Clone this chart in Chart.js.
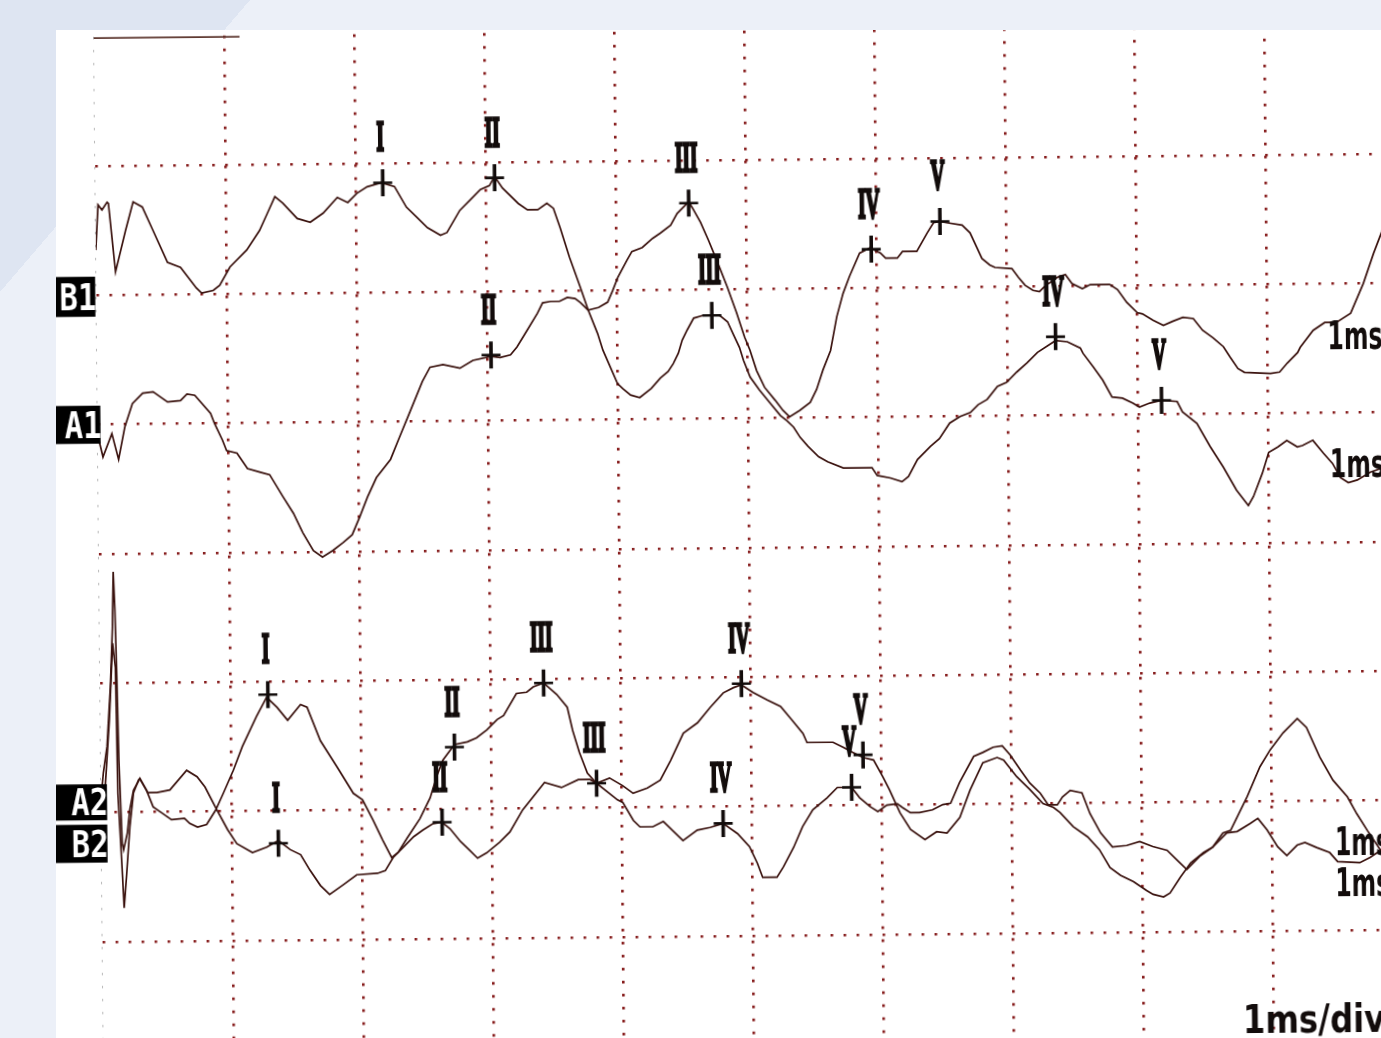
<!DOCTYPE html>
<html><head><meta charset="utf-8">
<script src="https://cdn.jsdelivr.net/npm/chart.js@4.4.1/dist/chart.umd.min.js"></script>
<style>
html,body{margin:0;padding:0;width:1381px;height:1038px;overflow:hidden;background:#ecf0f8;}
#tri{position:absolute;left:0;top:0;width:250px;height:292px;background:linear-gradient(to bottom right,#dee5f2 50%,rgba(222,229,242,0) 50%);}
#panel{position:absolute;left:56px;top:30px;width:1325px;height:1008px;background:#ffffff;overflow:hidden;}
#rot{position:absolute;left:-56px;top:-30px;width:1420px;height:1100px;transform:rotate(-0.544deg);transform-origin:93.8px 36.8px;}
canvas{display:block;}
</style></head>
<body>
<div id="tri"></div>
<div id="panel"><div id="rot"><canvas id="c" width="1420" height="1100"></canvas></div></div>
<script>
// x: time in ms (1 ms / div); y: vertical position in divisions from the top of the screen
const b1Time=[0.00,0.02,0.05,0.09,0.10,0.15,0.23,0.29,0.36,0.44,0.55,0.65,0.77,0.81,0.90,0.95,1.03,1.16,1.26,1.32,1.38,1.44,1.55,1.65,1.75,1.86,1.94,2.01,2.09,2.20,2.30,2.39,2.47,2.55,2.65,2.70,2.80,2.88,2.96,3.03,3.07,3.13,3.25,3.32,3.40,3.47,3.52,3.57,3.64,3.72,3.78,3.86,3.93,3.97,4.01,4.08,4.12,4.20,4.28,4.34,4.42,4.47,4.52,4.56,4.59,4.65,4.71,4.77,4.85,4.92,4.98,5.02,5.07,5.13,5.21,5.27,5.32,5.40,5.48,5.53,5.58,5.64,5.69,5.74,5.79,5.87,5.95,6.03,6.07,6.16,6.20,6.31,6.39,6.44,6.49,6.54,6.66,6.72,6.77,6.81,6.87,6.91,7.04,7.09,7.14,7.20,7.25,7.29,7.39,7.45,7.50,7.58,7.64,7.79,7.85,7.92,8.00,8.04,8.12,8.20,8.27,8.35,8.43,8.50,8.58,8.66,8.71,8.77,8.82,9.02,9.09,9.15,9.23,9.25,9.35,9.44,9.53,9.64,9.74,9.82,9.89];
const b1Level=[1.65,1.30,1.34,1.28,1.29,1.82,1.50,1.28,1.32,1.50,1.75,1.79,1.95,1.99,1.97,1.93,1.79,1.66,1.51,1.38,1.25,1.30,1.42,1.45,1.38,1.26,1.30,1.23,1.18,1.15,1.18,1.34,1.42,1.50,1.56,1.54,1.37,1.29,1.21,1.18,1.11,1.20,1.32,1.37,1.37,1.32,1.36,1.51,1.74,1.97,2.15,2.13,2.09,2.00,1.90,1.77,1.70,1.67,1.60,1.56,1.50,1.41,1.36,1.32,1.37,1.48,1.62,1.77,1.98,2.18,2.37,2.47,2.63,2.76,2.86,2.94,2.99,2.94,2.88,2.78,2.63,2.48,2.22,2.04,1.91,1.73,1.69,1.73,1.77,1.77,1.72,1.72,1.58,1.50,1.49,1.50,1.52,1.58,1.69,1.78,1.83,1.85,1.86,1.93,1.99,2.03,2.04,2.00,1.93,1.91,1.98,2.02,1.99,1.99,2.03,2.13,2.21,2.22,2.27,2.31,2.28,2.25,2.26,2.35,2.41,2.48,2.56,2.65,2.68,2.69,2.68,2.61,2.53,2.49,2.36,2.30,2.30,2.23,2.00,1.77,1.59];

const a1Time=[0.00,0.01,0.04,0.11,0.16,0.21,0.27,0.35,0.43,0.54,0.64,0.69,0.75,0.87,0.90,0.96,0.99,1.07,1.15,1.25,1.32,1.42,1.50,1.57,1.65,1.72,1.80,1.88,1.95,2.01,2.07,2.14,2.25,2.32,2.40,2.50,2.56,2.66,2.79,2.89,3.03,3.10,3.18,3.23,3.31,3.39,3.43,3.49,3.56,3.62,3.68,3.72,3.78,3.85,3.89,4.00,4.04,4.10,4.17,4.26,4.33,4.39,4.43,4.47,4.50,4.54,4.59,4.66,4.73,4.79,4.85,4.89,4.94,4.97,5.02,5.09,5.17,5.25,5.30,5.35,5.40,5.46,5.54,5.61,5.73,5.95,5.99,6.09,6.18,6.23,6.30,6.40,6.47,6.55,6.63,6.71,6.77,6.84,6.92,6.99,7.07,7.15,7.23,7.37,7.46,7.56,7.58,7.66,7.73,7.80,7.88,7.96,8.01,8.09,8.18,8.30,8.34,8.45,8.55,8.65,8.75,8.84,8.88,8.95,9.00,9.07,9.14,9.22,9.26,9.34,9.42,9.49,9.55,9.61,9.68,9.78,9.87];
const a1Level=[3.06,3.12,3.25,3.07,3.27,3.02,2.84,2.76,2.75,2.83,2.82,2.77,2.78,2.92,3.00,3.13,3.21,3.23,3.35,3.38,3.40,3.57,3.70,3.85,3.99,4.04,3.99,3.93,3.87,3.73,3.58,3.43,3.29,3.12,2.93,2.69,2.58,2.56,2.59,2.53,2.50,2.51,2.49,2.43,2.30,2.17,2.09,2.08,2.08,2.05,2.06,2.09,2.15,2.33,2.46,2.72,2.76,2.81,2.83,2.76,2.68,2.63,2.57,2.49,2.39,2.31,2.22,2.20,2.20,2.20,2.25,2.34,2.45,2.55,2.68,2.78,2.88,2.98,3.02,3.07,3.15,3.22,3.30,3.34,3.39,3.39,3.45,3.47,3.50,3.46,3.33,3.23,3.17,3.05,3.00,2.97,2.91,2.87,2.77,2.74,2.66,2.59,2.51,2.42,2.43,2.48,2.52,2.63,2.73,2.86,2.87,2.91,2.94,2.91,2.89,2.90,2.98,3.07,3.25,3.41,3.59,3.71,3.64,3.46,3.30,3.26,3.21,3.26,3.25,3.21,3.31,3.39,3.50,3.54,3.52,3.46,3.43];

const a2Time=[0.00,0.02,0.05,0.08,0.10,0.11,0.12,0.13,0.14,0.16,0.17,0.20,0.22,0.25,0.30,0.35,0.40,0.47,0.54,0.64,0.68,0.74,0.81,0.88,0.94,1.02,1.09,1.20,1.28,1.36,1.44,1.54,1.59,1.69,1.82,1.94,2.01,2.09,2.16,2.23,2.28,2.35,2.45,2.53,2.58,2.63,2.72,2.82,2.89,2.97,3.05,3.10,3.20,3.28,3.33,3.41,3.51,3.59,3.63,3.68,3.74,3.81,3.91,4.01,4.09,4.20,4.30,4.38,4.48,4.59,4.69,4.79,4.87,4.93,5.02,5.13,5.23,5.32,5.40,5.43,5.63,5.71,5.78,5.86,5.94,6.01,6.06,6.14,6.22,6.33,6.42,6.50,6.60,6.68,6.78,6.89,6.94,7.04,7.14,7.24,7.32,7.37,7.47,7.58,7.67,7.75,7.83,7.93,8.03,8.08,8.16,8.21,8.29,8.37,8.47,8.54,8.62,8.68,8.73,8.81,8.91,8.99,9.09,9.20,9.27,9.37,9.47,9.58,9.65,9.73,9.84];
const a2Level=[5.90,5.69,5.49,5.03,4.57,4.14,4.43,4.95,5.60,6.24,6.29,6.16,5.98,5.83,5.74,5.83,5.96,6.01,6.06,6.05,6.09,6.12,6.10,5.99,5.86,5.68,5.50,5.27,5.12,5.20,5.30,5.18,5.20,5.46,5.67,5.87,5.92,6.08,6.23,6.37,6.33,6.22,6.07,5.91,5.75,5.62,5.50,5.48,5.45,5.39,5.31,5.28,5.11,5.10,5.06,5.03,5.12,5.22,5.40,5.57,5.73,5.81,5.77,5.83,5.89,5.85,5.79,5.64,5.43,5.35,5.23,5.12,5.08,5.06,5.12,5.18,5.23,5.34,5.44,5.51,5.51,5.55,5.59,5.63,5.65,5.78,5.88,6.06,6.19,6.27,6.21,6.22,6.10,5.89,5.68,5.64,5.66,5.79,5.89,6.00,6.03,6.07,6.18,6.26,6.36,6.50,6.56,6.61,6.68,6.71,6.73,6.70,6.58,6.47,6.39,6.35,6.24,6.22,6.12,5.96,5.73,5.60,5.47,5.36,5.43,5.66,5.84,5.97,6.10,6.23,6.40];

const b2Time=[0.00,0.03,0.07,0.10,0.12,0.13,0.16,0.17,0.19,0.22,0.25,0.29,0.30,0.36,0.43,0.53,0.66,0.74,0.80,0.88,0.97,1.04,1.16,1.27,1.36,1.45,1.53,1.60,1.68,1.75,1.85,1.96,2.12,2.18,2.24,2.32,2.40,2.47,2.55,2.62,2.68,2.76,2.83,2.89,2.96,3.06,3.14,3.24,3.41,3.54,3.67,3.76,3.81,3.97,4.01,4.09,4.14,4.24,4.32,4.39,4.47,4.58,4.68,4.78,4.89,4.98,5.04,5.08,5.19,5.24,5.32,5.39,5.47,5.58,5.66,5.70,5.77,5.83,5.91,5.97,6.04,6.12,6.16,6.22,6.29,6.39,6.47,6.53,6.60,6.71,6.78,6.86,6.93,6.99,7.07,7.14,7.22,7.28,7.35,7.39,7.45,7.54,7.60,7.68,7.77,7.88,7.98,8.08,8.19,8.27,8.34,8.44,8.54,8.65,8.73,8.83,8.89,8.96,9.04,9.11,9.19,9.25,9.34,9.44,9.50,9.67,9.75,9.84];
const b2Level=[5.90,5.85,5.28,4.69,4.88,5.85,6.50,6.74,6.50,6.11,5.85,5.75,5.74,5.85,5.85,5.83,5.68,5.73,5.81,5.97,6.14,6.25,6.32,6.28,6.23,6.30,6.34,6.46,6.58,6.65,6.58,6.50,6.49,6.47,6.37,6.29,6.21,6.16,6.11,6.10,6.15,6.25,6.32,6.38,6.34,6.26,6.18,6.01,5.80,5.84,5.78,5.78,5.81,5.94,5.96,6.10,6.15,6.15,6.11,6.18,6.26,6.18,6.16,6.13,6.21,6.31,6.44,6.55,6.55,6.47,6.32,6.16,6.03,5.94,5.86,5.86,5.86,5.94,6.01,6.05,6.00,5.99,6.02,6.06,6.06,6.04,6.00,5.99,5.83,5.63,5.60,5.56,5.55,5.62,5.74,5.84,5.92,6.01,6.01,5.95,5.90,5.92,6.08,6.23,6.34,6.33,6.30,6.34,6.37,6.45,6.52,6.42,6.35,6.24,6.23,6.17,6.13,6.22,6.35,6.42,6.34,6.32,6.36,6.40,6.47,6.48,6.44,6.38];

// wave peaks (latency in ms, level) and their roman-numeral names
const b1PeakTime=[2.21,3.07,4.56,5.96,6.49], b1PeakLevel=[1.15,1.12,1.33,1.70,1.49], b1PeakNames=['I','II','III','IV','V'];
const a1PeakTime=[3.03,4.73,7.37,8.18],      a1PeakLevel=[2.49,2.20,2.39,2.89],      a1PeakNames=['II','III','IV','V'];
const a2PeakTime=[1.29,2.72,3.41,4.93,5.86], a2PeakLevel=[5.10,5.52,5.03,5.05,5.61], a2PeakNames=['I','II','III','IV','V'];
const b2PeakTime=[1.36,2.62,3.81,4.78,5.77], b2PeakLevel=[6.25,6.10,5.81,6.13,5.86], b2PeakNames=['I','II','III','IV','V'];

// channel tags, scale texts
const channelNames=['B1','A1','A2','B2'];
const channelTagLevel=[2.01,3.00,5.92,6.24];
const scaleTexts=['1ms','1ms','1ms','1ms'];
const scaleTextTime=[9.46,9.47,9.48,9.48];
const scaleTextLevel=[2.51,3.50,6.42,6.74];
const sweepText='1ms/div', sweepTime=8.76, sweepLevel=7.79;
const frameTime=[0.00,1.12], frameLevel=[0.01,0.01];

// ---- styles ----
const TRACE='#3a120e', MARK='#120c0b', GRIDC='#861c1c';
const zip=(xs,ys)=>xs.map((x,i)=>({x:x,y:ys[i]}));
const peakGroups=[
  {t:b1PeakTime,v:b1PeakLevel,n:b1PeakNames},
  {t:a1PeakTime,v:a1PeakLevel,n:a1PeakNames},
  {t:a2PeakTime,v:a2PeakLevel,n:a2PeakNames},
  {t:b2PeakTime,v:b2PeakLevel,n:b2PeakNames}
];
const allPeaks=[];
peakGroups.forEach(g=>g.t.forEach((t,i)=>allPeaks.push({x:t,y:g.v[i]})));
const tagStyle=[{right:-1,h:40},{right:3,h:38},{right:6,h:36},{right:6,h:38}];

function traceDs(label,xs,ys){
  return {label:label,data:zip(xs,ys),borderColor:TRACE,borderWidth:1.7,pointRadius:0,tension:0,fill:false,order:2};
}

const annot={
  id:'annot',
  afterDatasetsDraw(chart){
    const ctx=chart.ctx, x=chart.scales.x, y=chart.scales.y, area=chart.chartArea;
    ctx.save();
    // roman numerals above peak markers
    ctx.fillStyle=MARK; ctx.strokeStyle=MARK; ctx.lineJoin='miter';
    ctx.textAlign='center'; ctx.textBaseline='alphabetic';
    ctx.font='bold 40px "Liberation Serif"';
    peakGroups.forEach(g=>{
      g.t.forEach((t,i)=>{
        const px=x.getPixelForValue(t)-2, py=y.getPixelForValue(g.v[i])-46+14;
        ctx.save(); ctx.translate(px,py); ctx.scale(0.48,1.04);
        ctx.lineWidth=3.2; ctx.strokeText(g.n[i],0,0); ctx.fillText(g.n[i],0,0); ctx.restore();
      });
    });
    // channel tags
    channelNames.forEach((name,i)=>{
      const cy=y.getPixelForValue(channelTagLevel[i]);
      const st=tagStyle[i];
      const r=area.left+st.right;
      ctx.fillStyle='#000';
      ctx.fillRect(r-52,cy-st.h/2,52,st.h);
      ctx.fillStyle='#fff'; ctx.textAlign='right';
      ctx.font='bold 36px "DejaVu Sans Mono"';
      ctx.save(); ctx.translate(r+1,cy+13); ctx.scale(0.85,1.05); ctx.fillText(name,0,0); ctx.restore();
    });
    // scale texts at right
    ctx.fillStyle=MARK; ctx.textAlign='left';
    ctx.font='bold 38px "DejaVu Sans"';
    scaleTexts.forEach((s,i)=>{
      ctx.save(); ctx.translate(x.getPixelForValue(scaleTextTime[i]),y.getPixelForValue(scaleTextLevel[i]));
      ctx.scale(0.62,1.02); ctx.fillText(s,0,0); ctx.restore();
    });
    ctx.save(); ctx.translate(x.getPixelForValue(sweepTime),y.getPixelForValue(sweepLevel));
    ctx.scale(0.85,1.02); ctx.fillText(sweepText,0,0); ctx.restore();
    ctx.restore();
  }
};

new Chart(document.getElementById('c'),{
  type:'line',
  data:{datasets:[
    traceDs('B1',b1Time,b1Level),
    traceDs('A1',a1Time,a1Level),
    traceDs('A2',a2Time,a2Level),
    traceDs('B2',b2Time,b2Level),
    {label:'frame',data:zip(frameTime,frameLevel),borderColor:'#5e3830',borderWidth:1.8,pointRadius:0,clip:false,order:2},
    {label:'peakV',data:allPeaks,showLine:false,pointStyle:'line',pointRotation:90,pointRadius:13.5,pointBorderWidth:3.6,pointBorderColor:MARK,pointBackgroundColor:MARK,order:1},
    {label:'peakH',data:allPeaks,showLine:false,pointStyle:'line',pointRotation:0,pointRadius:9.5,pointBorderWidth:2.6,pointBorderColor:MARK,pointBackgroundColor:MARK,order:1}
  ]},
  options:{
    responsive:false, animation:false, devicePixelRatio:1, events:[],
    layout:{padding:{left:93.8,top:36.8,right:25.2,bottom:28.8}},
    plugins:{legend:{display:false},tooltip:{enabled:false}},
    scales:{
      x:{type:'linear',min:0,max:10,
        ticks:{display:false,stepSize:1},
        grid:{drawTicks:false,
          color:c=>c.tick.value===0?'rgba(140,140,140,0.6)':GRIDC,
          lineWidth:c=>c.tick.value===0?1:2.6},
        border:{display:false,dash:[2.6,10.4]}},
      y:{type:'linear',min:0,max:8,reverse:true,
        ticks:{display:false,stepSize:1},
        grid:{drawTicks:false,
          color:c=>(c.tick.value===0||c.tick.value===8)?'rgba(0,0,0,0)':GRIDC,
          lineWidth:2.6},
        border:{display:false,dash:[2.6,10.4]}}
    }
  },
  plugins:[annot]
});
</script>
</body></html>
